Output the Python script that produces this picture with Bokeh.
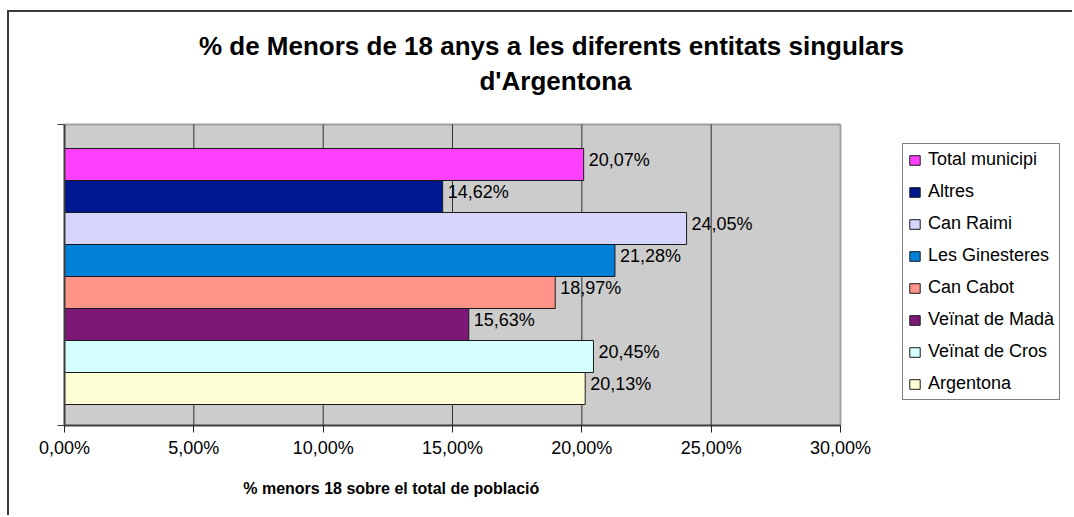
from bokeh.plotting import figure
from bokeh.models import (ColumnDataSource, Range1d, FixedTicker, LabelSet, Legend, LegendItem)
from bokeh.core.properties import value
from bokeh.embed import file_html
from bokeh.resources import INLINE

# ---- data ----
categories = ["Total municipi", "Altres", "Can Raimi", "Les Ginesteres",
              "Can Cabot", "Veïnat de Madà", "Veïnat de Cros", "Argentona"]
values = [20.07, 14.62, 24.05, 21.28, 18.97, 15.63, 20.45, 20.13]
colors = ["#FF40FF", "#00188F", "#D5D5FF", "#0080D8",
          "#FF9488", "#7D1877", "#D5FFFF", "#FFFFD5"]
x_ticks = [0, 5, 10, 15, 20, 25, 30]
x_tick_labels = ["0,00%", "5,00%", "10,00%", "15,00%", "20,00%", "25,00%", "30,00%"]
title_lines = ["% de Menors de 18 anys a les diferents entitats singulars", "d'Argentona"]
x_axis_title = "%  menors 18 sobre el total de població"

FONT = "Liberation Sans"

# ---- layout (page pixels) ----
CX, CY = 9, 12            # canvas origin on the page (css margin + border)
W, H = 1074 - CX, 517 - CY
F_L, F_T, F_R, F_B = 64, 124, 840, 425   # plot area on the page
BAR_PX = 32.0

n = len(categories)
pos = [n - 1 - i for i in range(n)]
y_start = -0.5 - 21 / BAR_PX
y_end = y_start + (F_B - F_T) / BAR_PX
x_lo, x_hi = x_ticks[0], x_ticks[-1]


def px_x(px):
    return x_lo + (px - F_L) / (F_R - F_L) * (x_hi - x_lo)


def px_y(py):
    return y_start + (F_B - py) / BAR_PX


labels = [f"{v:.2f}".replace(".", ",") + "%" for v in values]
src = ColumnDataSource(dict(cat=categories, val=values, pos=pos, color=colors, label=labels))

p = figure(width=W, height=H, output_backend="svg", toolbar_location=None,
           x_range=Range1d(px_x(CX), px_x(CX + W)), y_range=Range1d(px_y(CY + H), px_y(CY)),
           min_border=0, background_fill_color="white", border_fill_color="white",
           styles={"margin-left": "7px", "margin-top": "10px",
                   "border-top": "2px solid #3A3A3A", "border-left": "2px solid #3A3A3A"})
p.outline_line_color = None
p.grid.visible = False

# plot area
p.quad(left=x_lo, right=x_hi, bottom=y_start, top=y_end, fill_color="#CCCCCC", line_color=None)
p.segment(x0=[x_lo, x_hi], y0=[y_end, y_end], x1=[x_hi, x_hi], y1=[y_end, y_start],
          line_color="#A0A0A0", line_width=2)
p.segment(x0=x_ticks[1:-1], y0=y_start, x1=x_ticks[1:-1], y1=y_end,
          line_color="#303030", line_width=1)

bars = p.hbar(y="pos", right="val", left=0, height=1, fill_color="color",
              line_color="#1A1A1A", line_width=1, source=src)

# axes (fixed on the plot-area edges)
p.xaxis.fixed_location = y_start
p.xaxis.bounds = (x_lo, x_hi)
p.xaxis.ticker = FixedTicker(ticks=x_ticks)
p.xaxis.major_label_overrides = {t: l for t, l in zip(x_ticks, x_tick_labels)}
p.xaxis.minor_tick_line_color = None
p.xaxis.major_tick_out = 7
p.xaxis.major_tick_in = 0
p.xaxis.major_tick_line_color = "#222222"
p.xaxis.axis_line_color = "#3C3C3C"
p.xaxis.axis_line_width = 2
p.xaxis.major_label_standoff = 5
p.xaxis.major_label_text_font = FONT
p.xaxis.major_label_text_font_size = "18px"
p.xaxis.major_label_text_color = "black"

p.yaxis.fixed_location = x_lo
p.yaxis.bounds = (y_start, y_end)
p.yaxis.ticker = FixedTicker(ticks=[y_start, y_end])
p.yaxis.major_label_overrides = {y_start: "", y_end: ""}
p.yaxis.minor_tick_line_color = None
p.yaxis.major_tick_out = 7
p.yaxis.major_tick_in = 0
p.yaxis.major_tick_line_color = "#3C3C3C"
p.yaxis.axis_line_color = "#3C3C3C"
p.yaxis.axis_line_width = 2

p.add_layout(LabelSet(x="val", y="pos", text="label", source=src, x_offset=5, y_offset=5,
                      text_baseline="middle", text_align="left",
                      text_font=value(FONT), text_font_size="18px", text_color="black"))

# titles
p.text(x=[px_x(551), px_x(555)], y=[px_y(45), px_y(80)], text=title_lines,
       text_align="center", text_baseline="alphabetic", text_font=value(FONT),
       text_font_size="26px", text_font_style="bold", text_color="black")
p.text(x=[px_x(393)], y=[px_y(488)], text=[x_axis_title],
       text_align="center", text_baseline="alphabetic", text_font=value(FONT),
       text_font_size="16px", text_font_style="bold", text_color="black")

# legend
items = [LegendItem(label=c, renderers=[bars], index=i) for i, c in enumerate(categories)]
legend = Legend(items=items, location=(902 - CX, (CY + H) - 400))
legend.margin = 0
legend.padding = 5
legend.spacing = 11
legend.label_height = 20
legend.glyph_height = 12
legend.glyph_width = 13
legend.label_standoff = 7
legend.label_text_font = FONT
legend.label_text_font_size = "18px"
legend.label_text_color = "black"
legend.border_line_color = "black"
legend.border_line_width = 1
legend.background_fill_color = "white"
legend.background_fill_alpha = 1
p.add_layout(legend, "center")

open("out.html", "w").write(file_html(p, INLINE))
